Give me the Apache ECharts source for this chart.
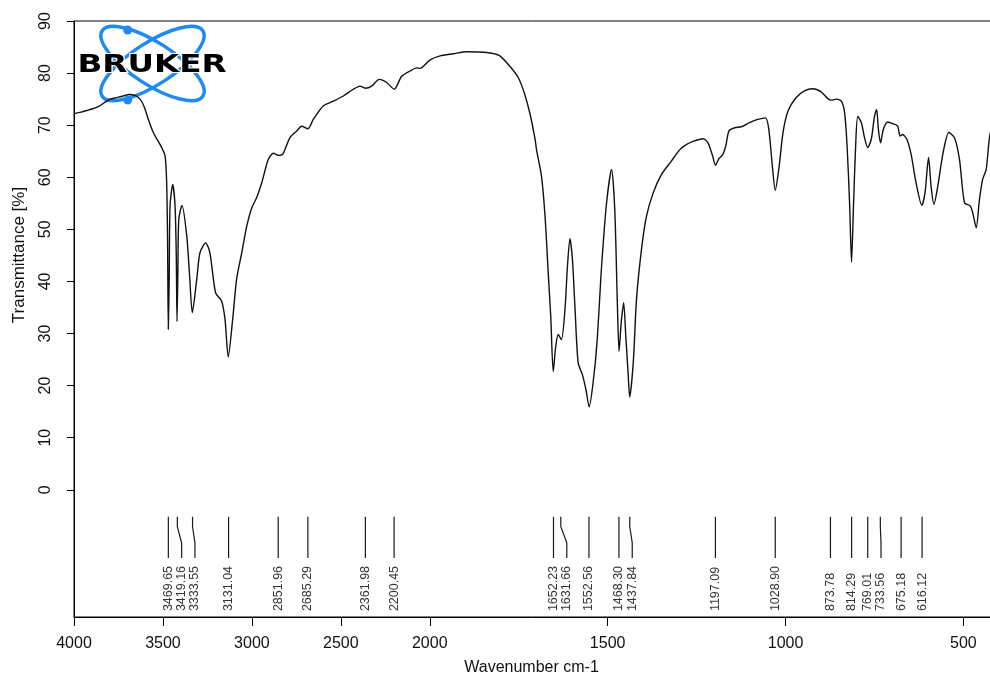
<!DOCTYPE html>
<html>
<head>
<meta charset="utf-8">
<title>IR spectrum</title>
<script src="https://cdn.jsdelivr.net/npm/echarts@6/dist/echarts.min.js"></script>
<style>
    html, body { margin: 0; padding: 0; background: #fff; }
    #chart { width: 990px; height: 680px; }
</style>
</head>
<body>
<div id="chart"></div>
<script>
// spectrum: wavenumber (cm-1) / transmittance (%)
let wavenumbers = [
    4000, 3960, 3920, 3891, 3860, 3830, 3798, 3760, 3723, 3690, 3657, 3629, 3605, 3582, 3554,
    3507, 3488, 3479, 3474, 3470, 3465, 3460, 3445, 3432, 3425, 3421, 3416, 3411, 3393, 3366,
    3350, 3335, 3310, 3292, 3260, 3236, 3204, 3170, 3151, 3133, 3108, 3086, 3057, 3029, 3001,
    2973, 2945, 2908, 2880, 2851, 2827, 2786, 2748, 2720, 2685, 2655, 2599, 2543, 2486, 2430,
    2392, 2362, 2327, 2284, 2242, 2200, 2158, 2111, 2074, 2055, 2000, 1971, 1934, 1896, 1859,
    1826, 1803, 1775, 1751, 1733, 1718, 1704, 1700, 1686, 1676, 1667, 1660, 1653, 1646, 1639,
    1630, 1620, 1613, 1606, 1599, 1592, 1583, 1571, 1561, 1552, 1541, 1530, 1517, 1503, 1489,
    1480, 1473, 1468, 1462, 1455, 1449, 1442, 1438, 1428, 1419, 1405, 1391, 1372, 1349, 1321,
    1297, 1278, 1260, 1232, 1218, 1205, 1197, 1187, 1176, 1168, 1159, 1143, 1124, 1101, 1078,
    1056, 1047, 1037, 1029, 1019, 1007, 993, 970, 947, 923, 900, 881, 872, 856, 843,
    834, 827, 820, 814.5, 809, 803, 797, 787, 778, 769, 759, 750, 744, 739, 733,
    725, 713, 699, 685, 678, 671, 659, 647, 633, 617, 608, 598, 591, 583, 572,
    558, 541, 525, 511, 497, 481, 474, 464, 455, 446, 436, 427, 415, 400
];
let transmittance = [
    72.2, 72.5, 72.9, 73.2, 73.6, 74.3, 75.0, 75.3, 75.6, 75.9, 75.7, 75.0, 73.5, 71.1, 68.6,
    65.7, 64.1, 58.9, 48.0, 30.8, 40.0, 54.5, 58.6, 54.5, 45.0, 32.3, 42.0, 51.9, 54.6, 48.7,
    41.0, 34.0, 40.4, 45.5, 47.4, 45.5, 37.8, 36.2, 32.7, 25.5, 32.7, 40.4, 45.5, 50.6, 54.1,
    56.1, 58.9, 63.4, 64.6, 64.2, 64.4, 67.6, 68.9, 69.8, 69.3, 71.1, 73.7, 74.6, 75.6, 76.9,
    77.5, 77.1, 77.5, 78.8, 78.2, 76.9, 79.4, 80.4, 81.0, 80.9, 82.5, 83.3, 83.7, 84.1, 84.05,
    83.8, 83.3, 81.3, 79.1, 75.9, 72.1, 67.3, 65.3, 60.2, 52.5, 41.6, 33.3, 22.7, 27.5, 29.8,
    28.8, 34.6, 42.9, 48.2, 44.2, 35.2, 24.4, 22.1, 19.2, 15.9, 20.5, 28.2, 42.9, 55.1, 61.5,
    53.8, 36.5, 26.6, 32.0, 35.9, 29.5, 21.8, 17.8, 24.4, 36.5, 46.1, 52.5, 57.0, 60.5, 63.1,
    65.3, 66.3, 66.9, 67.4, 66.6, 64.1, 62.3, 63.6, 64.4, 66.0, 68.9, 69.5, 69.7, 70.5, 71.1,
    71.4, 69.2, 62.1, 57.5, 61.5, 68.6, 72.7, 75.3, 76.6, 77.0, 76.4, 75.1, 74.8, 75.0, 74.6,
    72.4, 66.0, 55.1, 43.7, 54.5, 66.0, 71.7, 70.5, 67.6, 65.7, 67.3, 71.7, 73.0, 69.2, 66.6,
    69.2, 70.6, 70.3, 69.8, 67.9, 68.2, 67.3, 64.4, 58.9, 54.6, 57.0, 63.8, 58.3, 54.8, 58.3,
    64.4, 68.6, 67.6, 63.4, 55.1, 54.5, 53.2, 50.3, 55.7, 59.6, 61.5, 67.5, 71.0, 73.0
];

// picked peaks, labelled under the spectrum
let peak_positions = [
    3469.65, 3419.16, 3333.55, 3131.04, 2851.96, 2685.29, 2361.98, 2200.45,
    1652.23, 1631.66, 1552.56, 1468.30, 1437.84, 1197.09, 1028.90,
    873.78, 814.29, 769.01, 733.56, 675.18, 616.12
];

// tick labels
let x_tick_labels = [4000, 3500, 3000, 2500, 2000, 1500, 1000, 500];
let y_tick_labels = [0, 10, 20, 30, 40, 50, 60, 70, 80, 90];

let font = '"Liberation Sans", Arial, sans-serif';
let logo_blue = '#1f8bf2';

// peak marker geometry, in transmittance units below 0
let mark_top = -5.2;
let mark_bend_start = -7.1;
let mark_bend_end = -10.2;
let mark_bottom = -13.1;
let mark_label = -23.3;
let label_gap = 13.3;

/**
 * Above 2000 cm-1 the axis is squeezed by a factor 2
 */
function to_axis(w){
    return w > 2000 ? 2000 + (w - 2000) / 2 : w;
}
function from_axis(t){
    return t > 2000 ? 2000 + (t - 2000) * 2 : t;
}

let spectrum = wavenumbers.map(function(w, i){
    return [to_axis(w), transmittance[i]];
});
let peaks = peak_positions.map(function(w){
    return [to_axis(w), 0];
});

/**
 * Peak marker: line down from the spectrum area, bent aside when labels crowd
 */
function render_peak(params, api){
    let ctx = params.context;
    if(!ctx.layout){
        ctx.layout = [];
        let prev = -Infinity;
        peaks.forEach(function(p){
            let x = api.coord(p)[0];
            let lx = Math.max(x, prev + label_gap);
            ctx.layout.push({x: x, lx: lx});
            prev = lx;
        });
    }
    let pos = ctx.layout[params.dataIndex];
    let t = api.value(0);
    let y_top = api.coord([t, mark_top])[1];
    let y_b1 = api.coord([t, mark_bend_start])[1];
    let y_b2 = api.coord([t, mark_bend_end])[1];
    let y_bot = api.coord([t, mark_bottom])[1];
    let y_lab = api.coord([t, mark_label])[1];
    let points = Math.abs(pos.lx - pos.x) < 0.5
        ? [[pos.x, y_top], [pos.x, y_bot]]
        : [[pos.x, y_top], [pos.x, y_b1], [pos.lx, y_b2], [pos.lx, y_bot]];
    return {
        type: 'group',
        children: [
            {
                type: 'polyline',
                shape: {points: points},
                style: {stroke: '#1a1a1a', lineWidth: 1.2, fill: null}
            },
            {
                type: 'text',
                x: pos.lx,
                y: y_lab,
                rotation: Math.PI / 2,
                style: {
                    text: peak_positions[params.dataIndex].toFixed(2),
                    fontFamily: font,
                    fontSize: 12.5,
                    fill: '#333',
                    align: 'left',
                    verticalAlign: 'middle'
                }
            }
        ]
    };
}

let chart = echarts.init(document.getElementById('chart'));

let options = {
    animation: false,
    backgroundColor: '#fff',
    grid: {
        left: 74,
        width: 925,   // runs past the right edge, like the cropped original
        top: 21,
        bottom: 63,
        outerBoundsMode: 'none',
        show: true,
        borderColor: '#000',
        borderWidth: 1
    },
    xAxis: {
        type: 'value',
        inverse: true,
        min: to_axis(400),
        max: to_axis(4000),
        name: 'Wavenumber cm-1',
        nameLocation: 'middle',
        nameGap: 43,
        // centred on the visible part of the axis
        nameTextStyle: {fontFamily: font, fontSize: 16, color: '#111', padding: [0, 10, 0, 0]},
        axisLine: {show: true, onZero: false, lineStyle: {color: '#000', width: 1}},
        axisTick: {
            show: true,
            length: 9,
            customValues: x_tick_labels.map(to_axis),
            lineStyle: {color: '#000'}
        },
        axisLabel: {
            customValues: x_tick_labels.map(to_axis),
            formatter: function(v){ return String(Math.round(from_axis(v))); },
            fontFamily: font,
            fontSize: 16,
            color: '#111',
            margin: 19
        },
        splitLine: {show: false}
    },
    yAxis: {
        type: 'value',
        min: -24.43,
        max: 90,
        axisLine: {show: true, onZero: false, lineStyle: {color: '#000', width: 1}},
        axisTick: {
            show: true,
            length: 7,
            customValues: y_tick_labels,
            lineStyle: {color: '#000'}
        },
        axisLabel: {
            customValues: y_tick_labels,
            rotate: 90,
            fontFamily: font,
            fontSize: 16,
            color: '#111',
            margin: 20
        },
        splitLine: {show: false}
    },
    graphic: [
        {
            type: 'text',
            x: 19,
            y: 255,
            rotation: Math.PI / 2,
            style: {
                text: 'Transmittance [%]',
                fontFamily: font,
                fontSize: 17,
                fill: '#111',
                align: 'center',
                verticalAlign: 'middle'
            }
        },
        // Bruker logo
        {
            type: 'ellipse',
            x: 152.5, y: 63.5,
            rotation: 0.576,
            shape: {cx: 0, cy: 0, rx: 60, ry: 21},
            style: {fill: null, stroke: logo_blue, lineWidth: 3.5}
        },
        {
            type: 'ellipse',
            x: 152.5, y: 63.5,
            rotation: -0.576,
            shape: {cx: 0, cy: 0, rx: 60, ry: 21},
            style: {fill: null, stroke: logo_blue, lineWidth: 3.5}
        },
        {
            type: 'circle',
            shape: {cx: 127.7, cy: 30, r: 4.5},
            style: {fill: logo_blue}
        },
        {
            type: 'circle',
            shape: {cx: 127.7, cy: 100, r: 4.5},
            style: {fill: logo_blue}
        },
        {
            type: 'text',
            x: 152,
            y: 66,
            scaleX: 1.36,
            style: {
                text: 'BRUKER',
                fontFamily: '"DejaVu Sans", sans-serif',
                fontWeight: 'bold',
                fontSize: 24,
                fill: '#000',
                stroke: '#fff',
                lineWidth: 2,
                align: 'center',
                verticalAlign: 'middle'
            }
        }
    ],
    series: [
        {
            type: 'line',
            data: spectrum,
            showSymbol: false,
            symbol: 'none',
            smooth: 0.25,
            lineStyle: {color: '#111', width: 1.4},
            z: 3
        },
        {
            type: 'custom',
            data: peaks,
            renderItem: render_peak,
            clip: false,
            z: 2
        }
    ]
};

chart.setOption(options);
</script>
</body>
</html>
